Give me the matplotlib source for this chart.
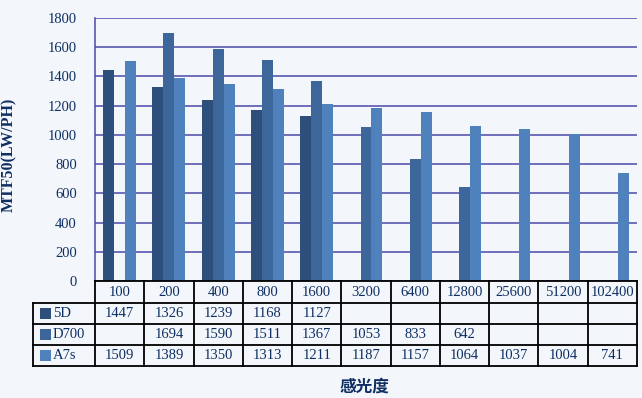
import numpy as np
import matplotlib.pyplot as plt
from matplotlib.lines import Line2D
from matplotlib.patches import Rectangle

# datos
iso = ["100", "200", "400", "800", "1600", "3200", "6400", "12800", "25600", "51200", "102400"]
series = ["5D", "D700", "A7s"]
v_5d = [1447, 1326, 1239, 1168, 1127, None, None, None, None, None, None]
v_d700 = [None, 1694, 1590, 1511, 1367, 1053, 833, 642, None, None, None]
v_a7s = [1509, 1389, 1350, 1313, 1211, 1187, 1157, 1064, 1037, 1004, 741]

colores = ["#2E4F7B", "#3D679B", "#4F81BD"]
fondo = "#F3F6FB"
azul_txt = "#0F2F62"
grid_c = "#4B4BAA"

W, H = 642, 398
fig = plt.figure(figsize=(W / 100, H / 100), dpi=100, facecolor=fondo)

def fx(px):
    return px / W

def fy(py):
    return 1 - py / H

x0, x1 = 95, 637
y_top, y_bot = 18, 281
ax = fig.add_axes([fx(x0), fy(y_bot), fx(x1) - fx(x0), fy(y_top) - fy(y_bot)])
ax.set_facecolor(fondo)

n = len(iso)
x = np.arange(n)
bw = 0.223
for k, vals in enumerate([v_5d, v_d700, v_a7s]):
    xs = [x[i] + (k - 1) * bw for i in range(n) if vals[i] is not None]
    hs = [v for v in vals if v is not None]
    ax.bar(xs, hs, width=bw, color=colores[k], linewidth=0, zorder=3)

ax.set_xlim(-0.5, n - 0.5)
ax.set_ylim(0, 1800)
ax.set_yticks(range(0, 1801, 200))
ax.yaxis.grid(True, color=grid_c, linewidth=1.1, zorder=0)
ax.set_xticks([])
for s in ["top", "right", "bottom"]:
    ax.spines[s].set_visible(False)
ax.spines["left"].set_color(grid_c)
ax.spines["left"].set_linewidth(1.1)
ax.tick_params(axis="y", length=0, pad=13, colors=azul_txt, labelsize=10.5)
for t in ax.get_yticklabels():
    t.set_fontfamily("Liberation Serif")

# tabla de datos
rows = [281, 303, 324, 345, 366]
lab_x = 33
cw = (x1 - x0) / n
lw = 1.3
kw = dict(transform=fig.transFigure, color="black", linewidth=lw)
fig.add_artist(Line2D([fx(x0), fx(x1)], [fy(rows[0]), fy(rows[0])], **kw))
for r in rows[1:]:
    fig.add_artist(Line2D([fx(lab_x), fx(x1)], [fy(r), fy(r)], **kw))
fig.add_artist(Line2D([fx(lab_x), fx(lab_x)], [fy(rows[1]), fy(rows[-1])], **kw))
for i in range(n + 1):
    xx = x0 + i * cw
    fig.add_artist(Line2D([fx(xx), fx(xx)], [fy(rows[0]), fy(rows[-1])], **kw))

tkw = dict(transform=fig.transFigure, color=azul_txt, fontsize=10.5,
           family="Liberation Serif", ha="center", va="center")
for i, lab in enumerate(iso):
    fig.text(fx(x0 + (i + 0.5) * cw), fy((rows[0] + rows[1]) / 2), lab, **tkw)

for k, vals in enumerate([v_5d, v_d700, v_a7s]):
    yc = (rows[k + 1] + rows[k + 2]) / 2
    fig.add_artist(Rectangle((fx(40), fy(yc + 5.5)), fx(11), fy(0) - fy(11),
                             transform=fig.transFigure, color=colores[k], linewidth=0))
    fig.text(fx(53), fy(yc), series[k], transform=fig.transFigure, color=azul_txt,
             fontsize=10.5, family="Liberation Serif", ha="left", va="center")
    for i, v in enumerate(vals):
        if v is not None:
            fig.text(fx(x0 + (i + 0.5) * cw), fy(yc), str(v), **tkw)

# titulos de ejes
fig.text(fx(9), fy(155), "MTF50(LW/PH)", rotation=90, ha="center", va="center",
         color=azul_txt, fontsize=11.5, fontweight="bold", family="Liberation Serif")
fig.text(fx(364), fy(387), "感光度", ha="center", va="center", color=azul_txt,
         fontsize=12, fontweight="bold", family=["Noto Sans CJK SC", "DejaVu Sans"])

fig.savefig("out.png", dpi=100, facecolor=fondo)
